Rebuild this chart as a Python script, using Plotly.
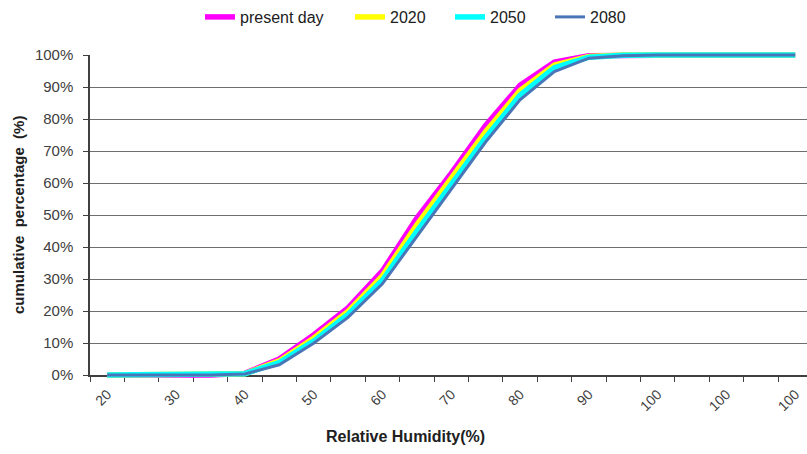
import plotly.graph_objects as go

# Relative humidity bins (category axis, labels shown on every second bin)
rh_bins = [20, 25, 30, 35, 40, 45, 50, 55, 60, 65, 70, 75, 80, 85, 90, 95,
           100, 100, 100, 100, 100]

# Cumulative percentage of hours at or below each humidity bin
present_day = [0, 0, 0, 0, 0.5, 5.0, 12.5, 21.0, 32.5, 49.0, 63.0, 78.0,
               90.5, 97.8, 99.8, 100, 100, 100, 100, 100, 100]
y2020 = [0, 0, 0, 0, 0.4, 4.4, 11.5, 19.9, 31.0, 46.9, 61.2, 76.0,
         88.9, 96.9, 99.5, 100, 100, 100, 100, 100, 100]
y2050 = [0, 0, 0, 0, 0.4, 3.9, 10.6, 18.9, 29.6, 44.9, 59.5, 74.2,
         87.4, 96.0, 99.3, 99.9, 100, 100, 100, 100, 100]
y2080 = [0, 0, 0, 0, 0.3, 3.2, 9.9, 18.0, 28.5, 43.3, 58.0, 72.8,
         86.0, 94.8, 99.0, 99.8, 100, 100, 100, 100, 100]

series_names = ["present day", "2020", "2050", "2080"]
series_values = [present_day, y2020, y2050, y2080]
series_colors = ["#FF00FF", "#FFFF00", "#00FFFF", "#4A76B8"]
series_widths = [5.5, 5.5, 5.5, 3]

positions = list(range(len(rh_bins)))
FONT = "Liberation Sans, Arial, sans-serif"

W, H = 807, 454
top_px, bot_px = 45, 385          # extent of the (hidden) data axis
grid_top, grid_bot = 55, 375      # extent of the 0-100% grid
span = bot_px - top_px
pct_per_px = 100 / (grid_bot - grid_top)
y2_range = [-(bot_px - grid_bot) * pct_per_px, 100 + (grid_top - top_px) * pct_per_px]
y_domain = [(bot_px - grid_bot) / span, (bot_px - grid_top) / span]

cat_px = 34.4
plot_w = W - 90
x_range = [-0.5, -0.5 + plot_w / cat_px]

fig = go.Figure()

# empty trace so the gridded x/y subplot is created and drawn
fig.add_trace(go.Scatter(x=[], y=[], xaxis="x", yaxis="y", showlegend=False,
                         hoverinfo="skip"))

legend_ids = ["legend", "legend2", "legend3", "legend4"]
legend_left_px = [200, 350, 450, 550]

for name, vals, color, width, lg in zip(series_names, series_values,
                                        series_colors, series_widths, legend_ids):
    fig.add_trace(go.Scatter(
        x=positions, y=vals, name=name, mode="lines",
        line=dict(color=color, width=width),
        xaxis="x", yaxis="y2", legend=lg,
    ))

legend_style = dict(
    orientation="h", xref="container", yref="container",
    y=1 - 17 / H, xanchor="left", yanchor="middle",
    font=dict(family=FONT, size=16, color="#202020"),
    bgcolor="rgba(0,0,0,0)", borderwidth=0,
)
legend_layout = {lg: dict(legend_style, x=px / W)
                 for lg, px in zip(legend_ids, legend_left_px)}

fig.update_layout(
    width=W, height=H,
    margin=dict(l=90, r=0, t=top_px, b=H - bot_px),
    paper_bgcolor="white", plot_bgcolor="rgba(0,0,0,0)",
    font=dict(family=FONT, size=14, color="#404040"),
    showlegend=True,
    xaxis=dict(
        range=x_range, anchor="y",
        tickmode="array", tickvals=positions[::2],
        ticktext=[str(v) for v in rh_bins[::2]],
        tickangle=-45, ticks="", showgrid=False, zeroline=False,
        showline=True, linecolor="#404040", linewidth=1.5,
        layer="below traces",
        ticklabelstandoff=4,
        tickfont=dict(family=FONT, size=14, color="#404040"),
        minor=dict(tick0=-0.5, dtick=1, ticks="outside", ticklen=5,
                   tickwidth=1.2, tickcolor="#404040", showgrid=False),
    ),
    yaxis=dict(
        domain=y_domain, range=[0, 100], dtick=10, ticksuffix="%",
        anchor="x", showgrid=True, gridcolor="#6e6e6e", gridwidth=1.4,
        zeroline=False, showline=True, linecolor="#404040", linewidth=1.5,
        ticks="outside", ticklen=5, tickwidth=1.2, tickcolor="#404040",
        ticklabelstandoff=7, layer="below traces",
        tickfont=dict(family=FONT, size=15, color="#404040"),
    ),
    yaxis2=dict(domain=[0, 1], range=y2_range, anchor="x", visible=False,
                showgrid=False, zeroline=False),
    annotations=[
        dict(text="<b>Relative Humidity(%)</b>", xref="paper", yref="paper",
             x=(405 - 90) / plot_w, y=(bot_px - 437) / span,
             xanchor="center", yanchor="middle", showarrow=False,
             font=dict(family=FONT, size=16, color="#202020")),
        dict(text="<b>cumulative\u00a0 percentage\u00a0 (%)</b>", xref="paper", yref="paper",
             x=(18 - 90) / plot_w, y=(bot_px - 215) / span, textangle=-90,
             xanchor="center", yanchor="middle", showarrow=False,
             font=dict(family=FONT, size=15, color="#202020")),
    ],
    **legend_layout,
)

fig.write_html("out.html")
